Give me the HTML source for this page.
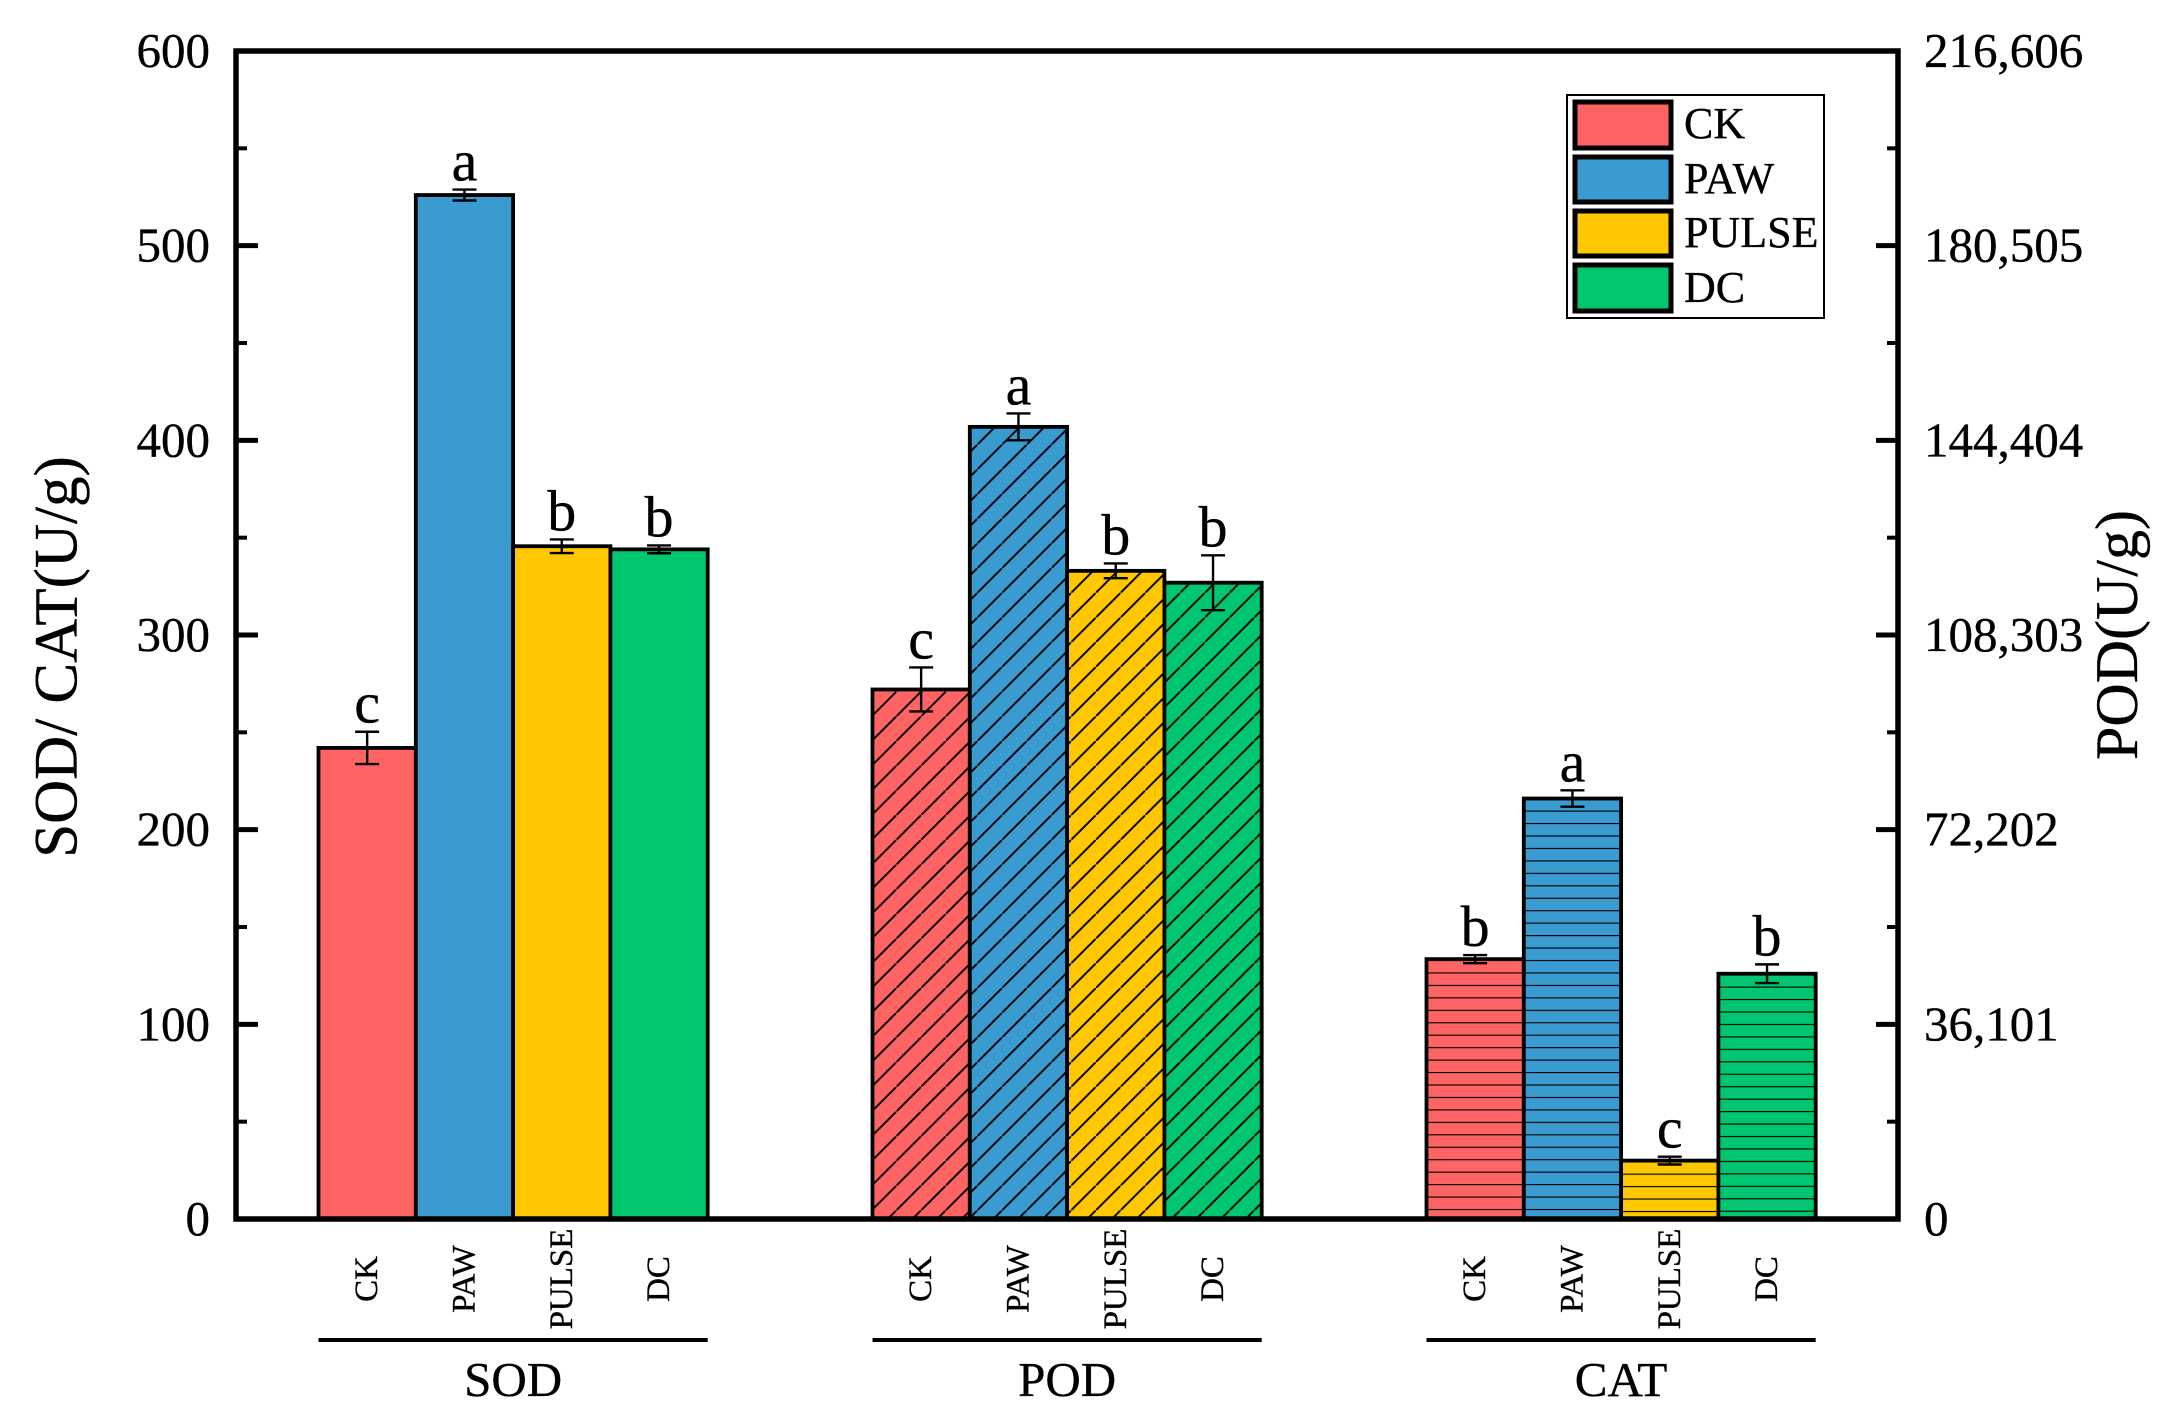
<!DOCTYPE html>
<html lang="en">
<head>
<meta charset="utf-8">
<title>SOD, POD and CAT activity</title>
<style>
html,body{margin:0;padding:0;background:#fff;width:2182px;height:1426px;overflow:hidden}
svg{display:block}
text{font-family:"Liberation Serif",serif;fill:#000;stroke:#000;stroke-width:0.35px}
</style>
</head>
<body>
<svg id="chart" width="2182" height="1426" viewBox="0 0 2182 1426" xmlns="http://www.w3.org/2000/svg">
  <defs id="defs"></defs>
  <g id="bars"></g>
  <g id="errors"></g>
  <g id="letters"></g>
  <rect x="236" y="51" width="1662" height="1168" fill="none" stroke="#000" stroke-width="5.5"></rect>
  <g id="ticks"></g>
  <g id="xlabels"></g>
  <text transform="translate(76.5,657) rotate(-90)" text-anchor="middle" font-size="61">SOD/ CAT(U/g)</text>
  <text transform="translate(2137,760) rotate(-90)" font-size="60">POD(U/g)</text>
  <g>
    <rect x="1567" y="95" width="257" height="223" fill="#fff" stroke="#000" stroke-width="2"></rect>
    <rect x="1575" y="102" width="96" height="46" fill="#FF6464" stroke="#000" stroke-width="5"></rect>
    <rect x="1575" y="157" width="96" height="45" fill="#3A9BD1" stroke="#000" stroke-width="5"></rect>
    <rect x="1575" y="211" width="96" height="45" fill="#FFC700" stroke="#000" stroke-width="5"></rect>
    <rect x="1575" y="265" width="96" height="46" fill="#00C76F" stroke="#000" stroke-width="5"></rect>
    <text x="1684" y="138" font-size="44">CK</text>
    <text x="1684" y="193" font-size="44">PAW</text>
    <text x="1684" y="247" font-size="44">PULSE</text>
    <text x="1684" y="302" font-size="44">DC</text>
  </g>
</svg>
<script>
// ---- chart data ----
const groups = ["SOD", "POD", "CAT"];
const treatments = ["CK", "PAW", "PULSE", "DC"];
const sodValues = [242, 526, 345.6, 344];
const sodErrors = [8.3, 2.8, 3.5, 2];
const sodLetters = ["c", "a", "b", "b"];
const podValues = [98200, 146900, 120200, 118000];
const podErrors = [4080, 2490, 1370, 5090];
const podLetters = ["c", "a", "b", "b"];
const catValues = [133.5, 216, 30, 126];
const catErrors = [2.1, 4.2, 2, 4.8];
const catLetters = ["b", "a", "c", "b"];
const leftTicks = [0, 100, 200, 300, 400, 500, 600];
const leftMinorTicks = [50, 150, 250, 350, 450, 550];
const rightTicks = [0, 36101, 72202, 108303, 144404, 180505, 216606];
const leftMax = 600;
const rightMax = 216606;

// ---- axis functions ----
const SVGNS = "http://www.w3.org/2000/svg";
const plotTop = 51, plotBottom = 1219, plotLeft = 236, plotRight = 1898;
function yLeft(v) { return plotBottom - (v / leftMax) * (plotBottom - plotTop); }
function yRight(v) { return plotBottom - (v / rightMax) * (plotBottom - plotTop); }
const barWidth = 97.3, groupStart = 318.5, groupStep = 554;
function xBar(g, t) { return groupStart + g * groupStep + t * barWidth; }

const colors = ["#FF6464", "#3A9BD1", "#FFC700", "#00C76F"];
const hatchPhase = [7.2, 14.1, 9.1, 19.3];
const hatchStep = 24.7;
const stripePhase = [1.3, 1.3, 3.3, 3.0];
const stripeStep = 12.45;

function make(tag, attrs, parent) {
  const el = document.createElementNS(SVGNS, tag);
  for (const k in attrs) el.setAttribute(k, attrs[k]);
  parent.appendChild(el);
  return el;
}

const defs = document.getElementById("defs");
const barsLayer = document.getElementById("bars");
const errLayer = document.getElementById("errors");
const letterLayer = document.getElementById("letters");
const tickLayer = document.getElementById("ticks");
const xLayer = document.getElementById("xlabels");

// hatch patterns
colors.forEach(function (c, i) {
  const d = make("pattern", {
    id: "diag" + i, patternUnits: "userSpaceOnUse",
    width: hatchStep, height: hatchStep,
    patternTransform: "translate(" + hatchPhase[i] + ",0)"
  }, defs);
  make("line", { x1: -2, y1: hatchStep + 2, x2: hatchStep + 2, y2: -2, stroke: "#000", "stroke-width": 1.9 }, d);
  const h = make("pattern", {
    id: "horiz" + i, patternUnits: "userSpaceOnUse",
    width: 20, height: stripeStep,
    patternTransform: "translate(0," + stripePhase[i] + ")"
  }, defs);
  make("line", { x1: 0, y1: 0, x2: 20, y2: 0, stroke: "#000", "stroke-width": 2.2 }, h);
});

const groupValues = [sodValues, podValues, catValues];
const groupErrors = [sodErrors, podErrors, catErrors];
const groupLetters = [sodLetters, podLetters, catLetters];
const groupScale = [yLeft, yRight, yLeft];
const groupHatch = [null, "diag", "horiz"];

groups.forEach(function (groupName, g) {
  const key = groupName.toLowerCase();
  treatments.forEach(function (name, t) {
    const tKey = name.toLowerCase();
    const scale = groupScale[g];
    const value = groupValues[g][t];
    const err = groupErrors[g][t];
    const x = xBar(g, t);
    const top = scale(value);
    const h = plotBottom - top;

    const bar = make("rect", { x: x, y: top, width: barWidth, height: h, fill: colors[t] }, barsLayer);
    
    

    if (groupHatch[g]) {
      const hatch = make("rect", { x: x, y: top, width: barWidth, height: h, fill: "url(#" + groupHatch[g] + t + ")" }, barsLayer);
      
      
    }

    const outline = make("rect", { x: x, y: top, width: barWidth, height: h, fill: "none", stroke: "#000", "stroke-width": 3.8 }, barsLayer);
    
    

    const cx = x + barWidth / 2;
    const yHi = scale(value + err), yLo = scale(value - err);
    const errPath = make("path", {
      d: "M" + (cx - 12) + " " + yHi + "H" + (cx + 12) +
         "M" + cx + " " + yHi + "V" + yLo +
         "M" + (cx - 12) + " " + yLo + "H" + (cx + 12),
      fill: "none", stroke: "#000", "stroke-width": 2.4
    }, errLayer);
    
    

    const letter = make("text", { x: cx, y: yHi - 9, "text-anchor": "middle", "font-size": 58 }, letterLayer);
    letter.textContent = groupLetters[g][t];
    
    

    const tick = make("text", {
      transform: "translate(" + (cx + 10) + ",1279) rotate(-90)",
      "text-anchor": "middle", "font-size": 33
    }, xLayer);
    tick.textContent = name;
    
    
  });

  const x0 = xBar(g, 0), x1 = xBar(g, 4);
  const rule = make("line", { x1: x0, x2: x1, y1: 1340, y2: 1340, stroke: "#000", "stroke-width": 4 }, xLayer);
  
  

  const label = make("text", { x: (x0 + x1) / 2, y: 1396, "text-anchor": "middle", "font-size": 49 }, xLayer);
  label.textContent = groupName;
  
  
});

// left axis
leftTicks.forEach(function (v) {
  const y = yLeft(v);
  const mark = make("line", { x1: plotLeft, x2: plotLeft + 22, y1: y, y2: y, stroke: "#000", "stroke-width": 5 }, tickLayer);
  
  
  const lab = make("text", { x: 210, y: y + 16, "text-anchor": "end", "font-size": 49 }, tickLayer);
  lab.textContent = String(v);
  
  
});
leftMinorTicks.forEach(function (v) {
  const y = yLeft(v);
  const mark = make("line", { x1: plotLeft, x2: plotLeft + 11, y1: y, y2: y, stroke: "#000", "stroke-width": 4 }, tickLayer);
  
  
  const markR = make("line", { x1: plotRight, x2: plotRight - 11, y1: y, y2: y, stroke: "#000", "stroke-width": 4 }, tickLayer);
  
  
});

// right axis
rightTicks.forEach(function (v) {
  const y = yRight(v);
  const mark = make("line", { x1: plotRight, x2: plotRight - 22, y1: y, y2: y, stroke: "#000", "stroke-width": 5 }, tickLayer);
  
  
  const lab = make("text", { x: 1924, y: y + 16, "font-size": 49 }, tickLayer);
  lab.textContent = v.toLocaleString("en-US");
  
  
});
</script>
</body>
</html>
